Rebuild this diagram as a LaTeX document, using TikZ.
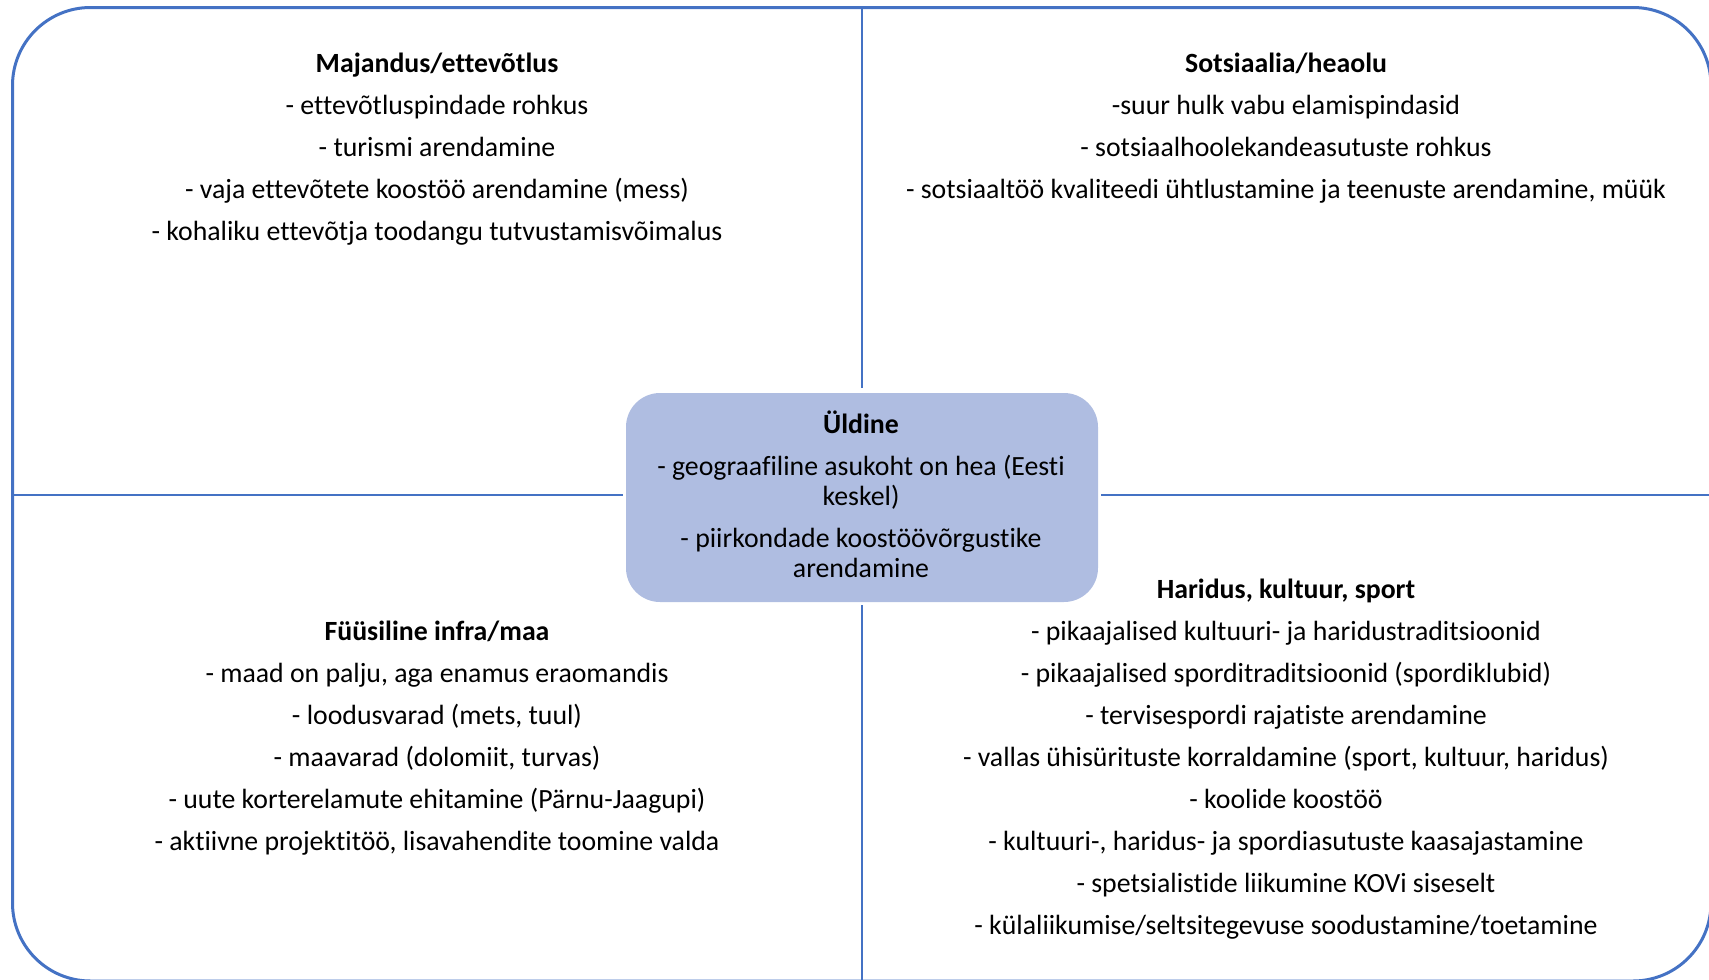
\documentclass[tikz,border=0pt]{standalone}
\usepackage{fontspec}
\setmainfont[Ligatures=NoCommon]{Carlito}
\definecolor{frameblue}{HTML}{4472C4}
\definecolor{boxfill}{HTML}{AFBDE1}
\begin{document}
\begin{tikzpicture}[x=0.5pt,y=-0.5pt,
  txt/.style={align=center,inner sep=0pt,text=black,font=\fontsize{13.9}{15}\selectfont},
  divider/.style={draw=frameblue,line width=1pt},
  frame/.style={draw=frameblue,line width=1.5pt,rounded corners=39pt}]
\useasboundingbox (0,0) rectangle (1709,980);
\begin{scope}
\clip (0,0) rectangle (1709,980);
\draw[frame] (12.5,7.5) rectangle (1711,981);
\end{scope}
\node[fill=boxfill,rounded corners=17pt,minimum width=236pt,minimum height=104.5pt,inner sep=0pt] (box) at (862,497.5) {};
\node[txt] (gen) at (861,494) {\textbf{Üldine}\\[6pt]- geograafiline asukoht on hea (Eesti\\keskel)\\[6pt]- piirkondade koostöövõrgustike\\arendamine};
\coordinate (ftop) at (862,7.5);
\coordinate (fbot) at (862,981);
\coordinate (fleft) at (12.5,495);
\coordinate (fright) at (1711,495);
\draw[divider] (ftop) -- ([yshift=2.5pt]box.north);
\draw[divider] ([yshift=-1.5pt]box.south) -- (fbot);
\draw[divider] (fleft) -- ([xshift=-1.5pt]box.west |- fleft);
\draw[divider] ([xshift=1.5pt]box.east |- fright) -- (fright);
\node[txt] (econ) at (437,149) {\textbf{Majandus/ettevõtlus}\\[6pt]- ettevõtluspindade rohkus\\[6pt]- turismi arendamine\\[6pt]- vaja ettevõtete koostöö arendamine (mess)\\[6pt]- kohaliku ettevõtja toodangu tutvustamisvõimalus};
\node[txt] (soc) at (1286,128.5) {\textbf{Sotsiaalia/heaolu}\\[6pt]-suur hulk vabu elamispindasid\\[6pt]- sotsiaalhoolekandeasutuste rohkus\\[6pt]- sotsiaaltöö kvaliteedi ühtlustamine ja teenuste arendamine, müük};
\node[txt] (phys) at (437,738) {\textbf{Füüsiline infra/maa}\\[6pt]- maad on palju, aga enamus eraomandis\\[6pt]- loodusvarad (mets, tuul)\\[6pt]- maavarad (dolomiit, turvas)\\[6pt]- uute korterelamute ehitamine (Pärnu-Jaagupi)\\[6pt]- aktiivne projektitöö, lisavahendite toomine valda};
\node[txt] (edu) at (1286,759) {\textbf{Haridus, kultuur, sport}\\[6pt]- pikaajalised kultuuri- ja haridustraditsioonid\\[6pt]- pikaajalised sporditraditsioonid (spordiklubid)\\[6pt]- tervisespordi rajatiste arendamine\\[6pt]- vallas ühisürituste korraldamine (sport, kultuur, haridus)\\[6pt]- koolide koostöö\\[6pt]- kultuuri-, haridus- ja spordiasutuste kaasajastamine\\[6pt]- spetsialistide liikumine KOVi siseselt\\[6pt]- külaliikumise/seltsitegevuse soodustamine/toetamine};
\end{tikzpicture}
\end{document}
